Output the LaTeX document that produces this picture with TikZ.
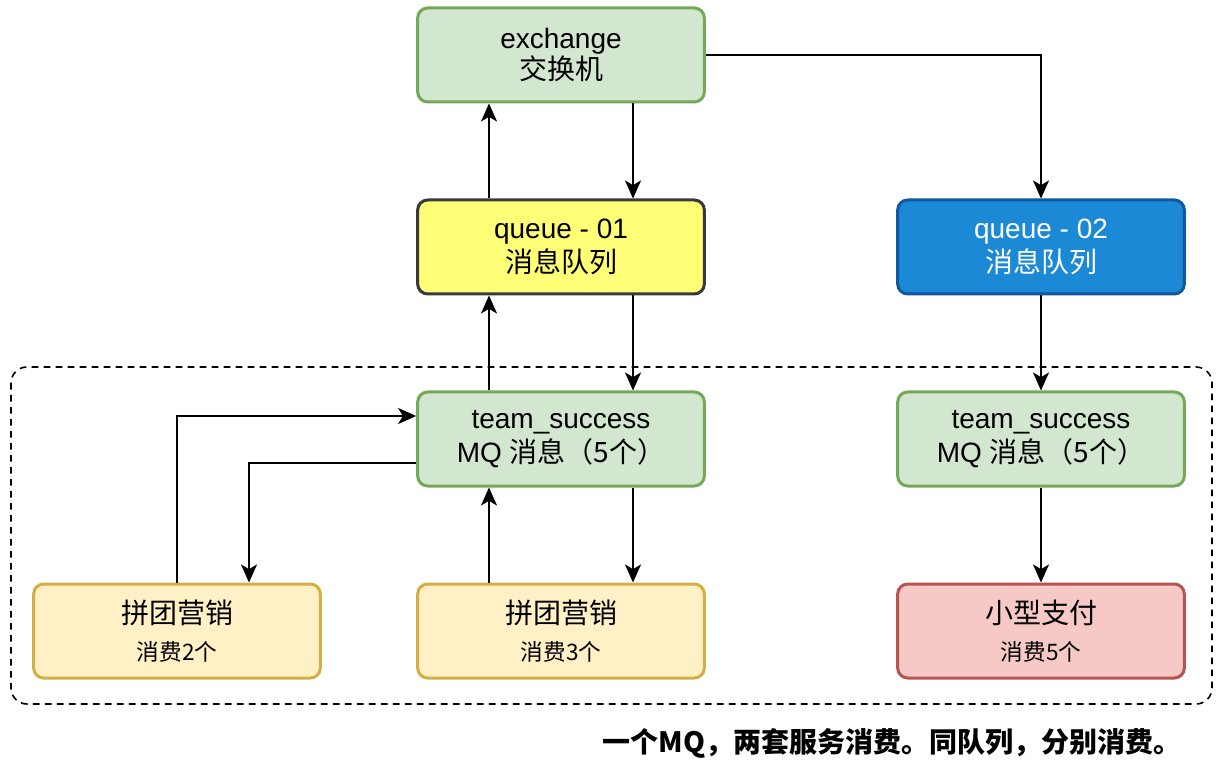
\documentclass[tikz,border=0pt]{standalone}
\usepackage{fontspec}
\setmainfont{Liberation Sans}
\newfontfamily\cjk{Noto Sans CJK SC}
\usepackage{tikz}
\usetikzlibrary{positioning, arrows.meta, calc}

\definecolor{greenfill}{HTML}{D2E6D0}
\definecolor{greenline}{HTML}{74AA57}
\definecolor{queuefill}{HTML}{FFFF77}
\definecolor{queueline}{HTML}{36393D}
\definecolor{bluefill}{HTML}{1B89D6}
\definecolor{blueline}{HTML}{10599E}
\definecolor{sandfill}{HTML}{FFF0C6}
\definecolor{sandline}{HTML}{D4AF45}
\definecolor{redfill}{HTML}{F6C8C6}
\definecolor{redline}{HTML}{B85450}

\tikzset{
    box/.style={rounded corners=7.5pt, line width=2.25pt, minimum width=215pt,
        minimum height=70.5pt, inner sep=0pt, align=center,
        font=\fontsize{21}{25.5}\selectfont},
    greenbox/.style={box, draw=greenline, fill=greenfill},
    sandbox/.style={box, draw=sandline, fill=sandfill},
    link/.style={line width=1.5pt, -{Stealth[length=13.5pt, width=12pt, inset=3.5pt]}},
}

\def\subline#1{{\fontsize{17}{22}\selectfont\cjk #1}}

\begin{document}
\begin{tikzpicture}[x=0.75pt, y=-0.75pt]
    \fill[white] (0,0) rectangle (1224,766);
    \useasboundingbox (0,0) rectangle (1224,766);

    % consumer group frame
    \draw[line width=1.2pt, dash pattern=on 5pt off 4pt, rounded corners=12pt]
        (11,367) rectangle (1212,704);

    % exchange and queues
    \node[greenbox] (ex) at (561,55) {\raisebox{-2pt}{exchange}\\{\cjk 交换机}};
    \node[box, draw=queueline, fill=queuefill] (q1) at (561,247) {queue - 01\\{\cjk 消息队列}};
    \node[box, draw=blueline, fill=bluefill, text=white] (q2) at (1041,247) {queue - 02\\{\cjk 消息队列}};

    % messages
    \node[greenbox] (ts1) at (561,439) {team\_success\\MQ {\cjk 消息（5个）}};
    \node[greenbox] (ts2) at (1041,439) {team\_success\\MQ {\cjk 消息（5个）}};

    % consumers
    \node[sandbox] (pt1) at (177,631) {{\cjk 拼团营销}\\[2pt]\subline{消费2个}};
    \node[sandbox] (pt2) at (561,631) {{\cjk 拼团营销}\\[2pt]\subline{消费3个}};
    \node[box, draw=redline, fill=redfill] (pay) at (1041,631) {{\cjk 小型支付}\\[2pt]\subline{消费5个}};

    % connectors
    \draw[link] ([xshift=-54pt]q1.north) -- ([xshift=-54pt]ex.south);
    \draw[link] ([xshift=54pt]ex.south) -- ([xshift=54pt]q1.north);
    \draw[link] (ex.east) -| (q2.north);
    \draw[link] ([xshift=54pt]q1.south) -- ([xshift=54pt]ts1.north);
    \draw[link] ([xshift=-54pt]ts1.north) -- ([xshift=-54pt]q1.south);
    \draw[link] (q2.south) -- (ts2.north);
    \draw[link] (ts2.south) -- (pay.north);
    \draw[link] (pt1.north) |- ([yshift=17.25pt]ts1.west);
    \draw[link] ([yshift=-18pt]ts1.west) -| ([xshift=54pt]pt1.north);
    \draw[link] ([xshift=-54pt]pt2.north) -- ([xshift=-54pt]ts1.south);
    \draw[link] ([xshift=54pt]ts1.south) -- ([xshift=54pt]pt2.north);

    % caption
    \node[anchor=east, font=\fontsize{21}{25}\selectfont\cjk\bfseries] (note) at (1186,743)
        {一个MQ，两套服务消费。同队列，分别消费。};
\end{tikzpicture}
\end{document}
